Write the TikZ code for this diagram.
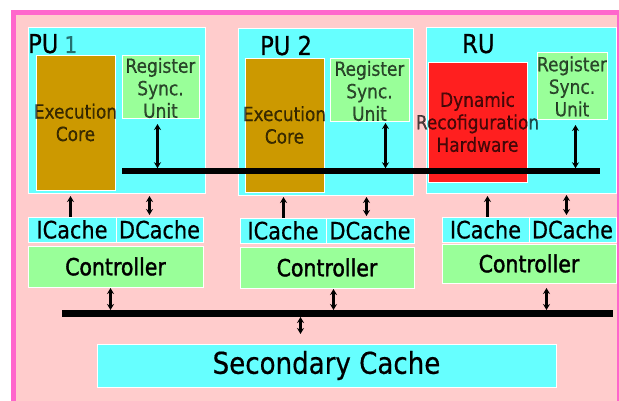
\documentclass[tikz,border=0pt]{standalone}
\usepackage{fontspec}
\setmainfont{DejaVu Sans}[FakeStretch=0.87,FakeBold=0.5]
\newfontfamily\heavyfont{DejaVu Sans}[FakeStretch=0.87,FakeBold=1.6]
\usetikzlibrary{arrows.meta}

\definecolor{framec}{HTML}{FF66CC}
\definecolor{bgpink}{HTML}{FFCCCC}
\definecolor{unitcyan}{HTML}{66FFFF}
\definecolor{ctrlgreen}{HTML}{99FF99}
\definecolor{coregold}{HTML}{CC9900}
\definecolor{hwred}{HTML}{FF1F1F}
\definecolor{tealtext}{HTML}{257070}

\begin{document}
\begin{tikzpicture}[x=1pt,y=-1pt,
  box/.style={draw=white, line width=0.8pt, inner sep=0pt, outer sep=0pt, anchor=north west},
  lbl/.style={text=black, text opacity=0.7, align=center, inner sep=0pt,
              font=\fontsize{19.5}{22.5}\selectfont},
  title/.style={anchor=base west, inner sep=0pt, font=\fontsize{26}{26}\selectfont},
  cachetxt/.style={font=\fontsize{24}{24}\selectfont},
  ctrltxt/.style={font=\heavyfont\fontsize{23.5}{24}\selectfont},
  busbar/.style={fill=black, inner sep=0pt, outer sep=0pt},
  tip/.tip={Stealth[length=6pt,width=7pt]},
  dbl/.style={tip-tip, line width=2.8pt},
  uparr/.style={-tip, line width=2.8pt}
]
\useasboundingbox (0,0) rectangle (619,401);

% frame and background
\fill[framec] (11,10) rectangle (619,402);
\fill[bgpink] (16,15) rectangle (617,402);

% processing unit 1
\node[box, fill=unitcyan, minimum width=177, minimum height=166] (pu1) at (28,27) {};
\node[box, fill=coregold, minimum width=79, minimum height=135] (exec1) at (36,55) {};
\node[box, fill=ctrlgreen, minimum width=77, minimum height=63] (rsu1) at (122,55) {};
\node[title] (t1) at (28,53) {PU\hspace{6pt}\textcolor{tealtext}{\fontsize{23}{23}\selectfont 1}};
\node[lbl] (l1a) at (exec1.center) {Execution\\Core};
\node[lbl] (l1b) at ([yshift=-1.5]rsu1.center) {Register\\Sync.\\Unit};

% processing unit 2
\node[box, fill=unitcyan, minimum width=175, minimum height=167] (pu2) at (238,28) {};
\node[box, fill=coregold, minimum width=79, minimum height=134] (exec2) at (245,58) {};
\node[box, fill=ctrlgreen, minimum width=79, minimum height=63] (rsu2) at (330,58) {};
\node[title] (t2) at (260,55) {PU 2};
\node[lbl] (l2a) at (exec2.center) {Execution\\Core};
\node[lbl] (l2b) at ([yshift=-1.5]rsu2.center) {Register\\Sync.\\Unit};

% reconfigurable unit
\node[box, fill=unitcyan, minimum width=190, minimum height=166] (ru) at (426,27) {};
\node[box, fill=hwred, minimum width=99, minimum height=120] (drh) at (428,62) {};
\node[box, fill=ctrlgreen, minimum width=70, minimum height=67] (rsu3) at (537,52) {};
\node[title] (t3) at (462,53) {RU};
\node[lbl] (l3a) at (drh.center) {Dynamic\\Recofiguration\\Hardware};
\node[lbl] (l3b) at ([yshift=-1]rsu3.center) {Register\\Sync.\\Unit};

% register synchronisation bus
\node[busbar, minimum width=478, minimum height=5.5] (ibus) at (361,171) {};
\draw[dbl, shorten <=6pt] ([xshift=-3]rsu1.south) -- ([xshift=-3]rsu1.south |- ibus.north);
\draw[dbl, shorten <=2pt] ([xshift=16]rsu2.south) -- ([xshift=16]rsu2.south |- ibus.north);
\draw[dbl, shorten <=6pt] ([xshift=3.5]rsu3.south) -- ([xshift=3.5]rsu3.south |- ibus.north);

% caches and controllers
\node[box, fill=unitcyan, minimum width=88, minimum height=25, cachetxt] (ic1) at (28,217) {ICache};
\node[box, fill=unitcyan, minimum width=87, minimum height=25, cachetxt] (dc1) at (116,217) {DCache};
\node[box, fill=ctrlgreen, minimum width=175, minimum height=41, ctrltxt] (ct1) at (28,246) {Controller};

\node[box, fill=unitcyan, minimum width=86, minimum height=25, cachetxt] (ic2) at (240,218) {ICache};
\node[box, fill=unitcyan, minimum width=88, minimum height=25, cachetxt] (dc2) at (326,218) {DCache};
\node[box, fill=ctrlgreen, minimum width=174, minimum height=41, ctrltxt] (ct2) at (240,247) {Controller};

\node[box, fill=unitcyan, minimum width=87, minimum height=25, cachetxt] (ic3) at (442,217) {ICache};
\node[box, fill=unitcyan, minimum width=87, minimum height=25, cachetxt] (dc3) at (529,217) {DCache};
\node[box, fill=ctrlgreen, minimum width=174, minimum height=39, ctrltxt] (ct3) at (442,244) {Controller};

% cache links to the units
\draw[uparr, shorten >=3pt] ([xshift=-1.5]ic1.north) -- ([xshift=-1.5]ic1.north |- pu1.south);
\draw[dbl, shorten >=3pt, shorten <=2pt] ([xshift=-10]dc1.north) -- ([xshift=-10]dc1.north |- pu1.south);
\draw[uparr, shorten >=2pt] ([xshift=0.5]ic2.north) -- ([xshift=0.5]ic2.north |- pu2.south);
\draw[dbl, shorten >=2pt, shorten <=2pt] ([xshift=-3.5]dc2.north) -- ([xshift=-3.5]dc2.north |- pu2.south);
\draw[uparr, shorten >=3pt] ([xshift=2]ic3.north) -- ([xshift=2]ic3.north |- ru.south);
\draw[dbl, shorten >=2pt, shorten <=2pt] ([xshift=-6]dc3.north) -- ([xshift=-6]dc3.north |- ru.south);

% main memory bus
\node[busbar, minimum width=551, minimum height=7] (mbus) at (337.5,313.5) {};
\draw[dbl, shorten <=1pt] ([xshift=-5]ct1.south) -- ([xshift=-5]ct1.south |- mbus.north);
\draw[dbl, shorten <=1pt] ([xshift=6.5]ct2.south) -- ([xshift=6.5]ct2.south |- mbus.north);
\draw[dbl, shorten <=5pt] ([xshift=17.5]ct3.south) -- ([xshift=17.5]ct3.south |- mbus.north);

% secondary cache
\node[box, fill=unitcyan, minimum width=459, minimum height=43,
      font=\fontsize{30}{30}\selectfont] (sec) at (97,344) {Secondary Cache};
\draw[dbl, shorten >=10pt] ([xshift=-26]sec.north |- mbus.south) -- ([xshift=-26]sec.north);
\end{tikzpicture}
\end{document}
